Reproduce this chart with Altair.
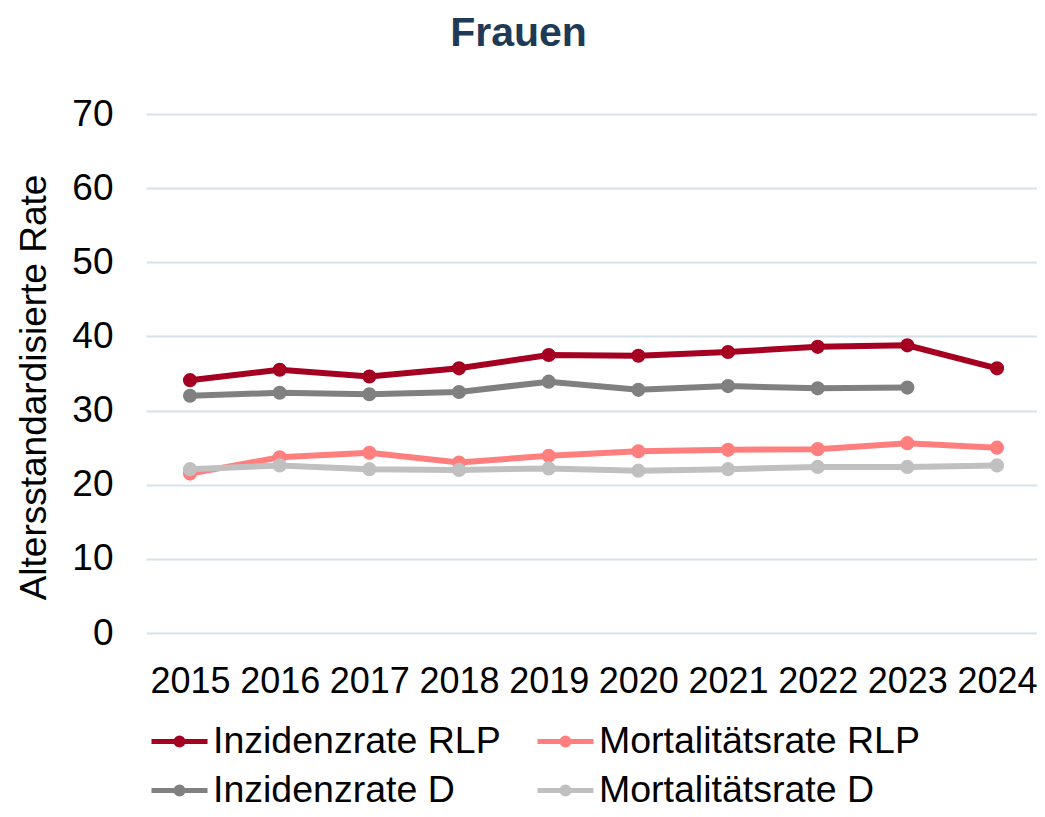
import altair as alt
import pandas as pd

years = [2015, 2016, 2017, 2018, 2019, 2020, 2021, 2022, 2023, 2024]
inzidenz_rlp = [34.1, 35.5, 34.6, 35.7, 37.5, 37.4, 37.9, 38.6, 38.8, 35.7]
mortalitaet_rlp = [21.5, 23.7, 24.3, 23.0, 23.9, 24.5, 24.7, 24.8, 25.6, 25.0]
inzidenz_d = [32.0, 32.4, 32.2, 32.5, 33.9, 32.8, 33.3, 33.0, 33.1, None]
mortalitaet_d = [22.1, 22.6, 22.1, 22.0, 22.2, 21.9, 22.1, 22.4, 22.4, 22.6]

series_names = ["Inzidenzrate RLP", "Mortalitätsrate RLP", "Inzidenzrate D", "Mortalitätsrate D"]
series_colors = ["#A50021", "#FF7F7F", "#808080", "#C0C0C0"]
series_values = [inzidenz_rlp, mortalitaet_rlp, inzidenz_d, mortalitaet_d]

rows = []
for name, vals in zip(series_names, series_values):
    for y, v in zip(years, vals):
        if v is not None:
            rows.append({"Jahr": y, "Serie": name, "Rate": v})
df = pd.DataFrame(rows)

FONT = "Liberation Sans"
legend_symbol = (
    "M-1,0L1,0"
    "M0.125,0A0.125,0.125,0,1,1,-0.125,0A0.125,0.125,0,1,1,0.125,0"
    "M0.036,0A0.036,0.036,0,1,1,-0.036,0A0.036,0.036,0,1,1,0.036,0"
)

chart = (
    alt.Chart(df)
    .mark_line(strokeWidth=6, point=alt.OverlayMarkDef(filled=True, size=200, opacity=1))
    .encode(
        x=alt.X(
            "Jahr:Q",
            scale=alt.Scale(domain=[2014.509, 2024.446], nice=False, zero=False),
            axis=alt.Axis(
                values=years, format="d", title=None, grid=False, domain=False,
                ticks=False, tickSize=0, labelFont=FONT, labelFontSize=36,
                labelColor="black", labelPadding=31, labelFlush=False, labelOverlap=False,
            ),
        ),
        y=alt.Y(
            "Rate:Q",
            scale=alt.Scale(domain=[0, 70], nice=False),
            axis=alt.Axis(
                values=[0, 10, 20, 30, 40, 50, 60, 70], title="Altersstandardisierte Rate",
                grid=True, gridColor="#D7E1EB", gridWidth=2, domain=False, ticks=False,
                tickSize=0, labelFont=FONT, labelFontSize=37, labelColor="black",
                labelPadding=33, titleFont=FONT, titleFontSize=37, titleFontWeight="normal",
                titleColor="black", titleX=-101, titleY=273, titleBaseline="alphabetic",
            ),
        ),
        color=alt.Color(
            "Serie:N",
            scale=alt.Scale(domain=series_names, range=series_colors),
            legend=alt.Legend(
                title=None, orient="none", legendX=3, legendY=597, columns=2,
                direction="horizontal", columnPadding=26, rowPadding=0,
                symbolType=legend_symbol, symbolSize=3136, symbolStrokeWidth=5,
                labelFont=FONT, labelFontSize=37.5, labelColor="black", labelOffset=3,
                labelLimit=0, padding=0, symbolOpacity=1,
            ),
        ),
        order=alt.Order("Jahr:Q"),
    )
    .properties(
        width=891,
        height=519,
        autosize=alt.AutoSizeParams(type="none"),
        padding={"left": 138, "top": 106, "right": 0, "bottom": 176},
        title=alt.TitleParams(
            "Frauen", font=FONT, fontSize=41, fontWeight="bold", color="#1F3A57",
            anchor="middle", frame="group", dx=-73, baseline="alphabetic", offset=8,
        ),
    )
    .configure_view(stroke=None)
)

chart.save("out.html", embed_options={"renderer": "svg", "actions": False})
